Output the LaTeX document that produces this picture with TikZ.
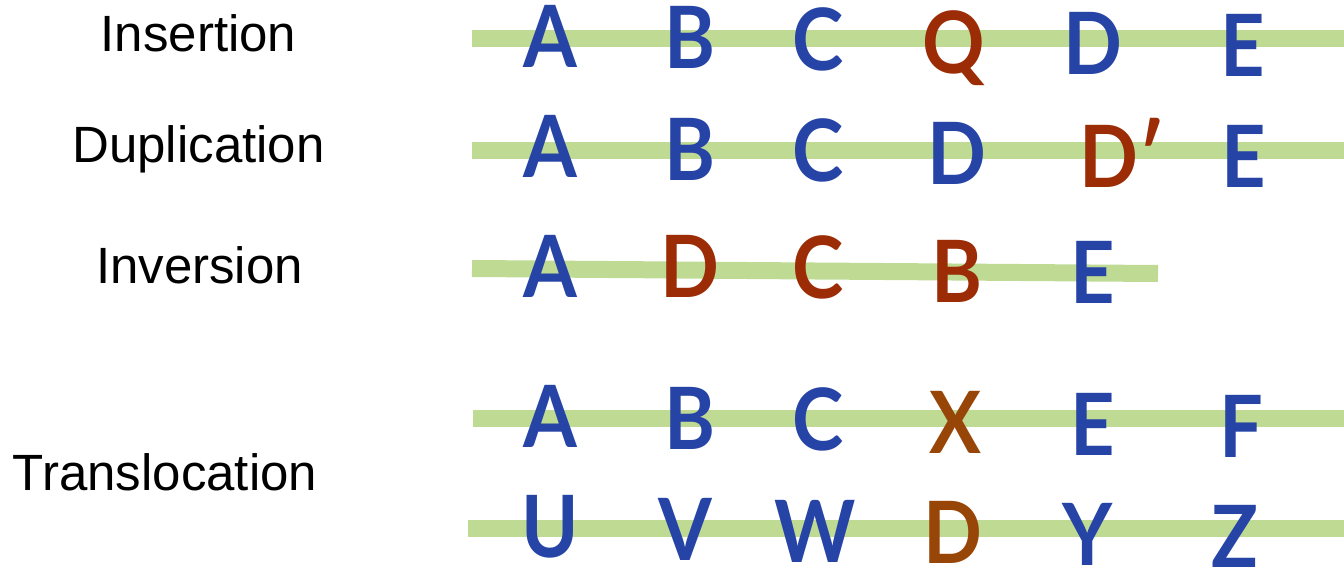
\documentclass[tikz,border=0pt]{standalone}
\usepackage{fontspec}
\setmainfont{Liberation Sans}
\newfontfamily\letf{Lato}
\definecolor{gblue}{HTML}{2643A6}
\definecolor{gred}{HTML}{9B2C06}
\definecolor{gorange}{HTML}{984608}
\definecolor{ggreen}{HTML}{BFDB93}
\tikzset{
  lab/.style={font=\fontsize{51}{60}\selectfont, inner sep=0, anchor=base, text=black},
  gene/.style={font=\letf\bfseries\fontsize{86}{90}\selectfont, inner sep=0, anchor=base,
               text depth=0pt, xscale=0.9, text=gblue},
  mut/.style={text=gred},
  tmut/.style={text=gorange},
  chrom/.style={draw=ggreen, line width=17pt}
}
\begin{document}
\begin{tikzpicture}[x=1pt,y=-1pt]
\useasboundingbox (0,0) rectangle (1344,567);
% labels
\node[lab] (l1) at (198.5,52) {Insertion};
\node[lab] (l2) at (198.5,163) {Duplication};
\node[lab] (l3) at (199.5,283) {Inversion};
\node[lab] (l4) at (165,490) {Translocation};
% chromosomes
\coordinate (c1a) at (472,38.5); \coordinate (c1b) at (1344,38.5);
\coordinate (c2a) at (472,151);  \coordinate (c2b) at (1344,151);
\coordinate (c3a) at (472,268.5);\coordinate (c3b) at (1158,273.5);
\coordinate (c4a) at (473,418);  \coordinate (c4b) at (1344,418);
\coordinate (c5a) at (468,528.5);\coordinate (c5b) at (1344,528.5);
\draw[chrom] (c1a) -- (c1b);
\draw[chrom] (c2a) -- (c2b);
\draw[chrom] (c3a) -- (c3b);
\draw[chrom] (c4a) -- (c4b);
\draw[chrom] (c5a) -- (c5b);
% row 1: insertion
\node[gene] (r1a) at (550,68) {A};
\node[gene] (r1b) at (690,69) {B};
\node[gene] (r1c) at (818,71) {C};
\node[gene,mut] (r1q) at (954,74) {Q};
\node[gene] (r1d) at (1093,75) {D};
\node[gene] (r1e) at (1243,77) {E};
% row 2: duplication
\node[gene] (r2a) at (550,178) {A};
\node[gene] (r2b) at (690,180) {B};
\node[gene] (r2c) at (818,181) {C};
\node[gene] (r2d) at (957,185) {D};
\node[gene,mut] (r2dp) at (1122,187) {D′};
\node[gene] (r2e) at (1244,187) {E};
% row 3: inversion
\node[gene] (r3a) at (550,297) {A};
\node[gene,mut] (r3d) at (690,297) {D};
\node[gene,mut] (r3c) at (818,298) {C};
\node[gene,mut] (r3b) at (957,302) {B};
\node[gene] (r3e) at (1093,303) {E};
% row 4: translocation, chromosome 1
\node[gene] (r4a) at (550,447) {A};
\node[gene] (r4b) at (690,449) {B};
\node[gene] (r4c) at (818,450) {C};
\node[gene,tmut] (r4x) at (955,453) {X};
\node[gene] (r4e) at (1093,455) {E};
\node[gene] (r4f) at (1241,457) {F};
% row 5: translocation, chromosome 2
\node[gene] (r5u) at (550,557) {U};
\node[gene] (r5v) at (685,560) {V};
\node[gene] (r5w) at (815,562) {W};
\node[gene,tmut] (r5d) at (953,563) {D};
\node[gene] (r5y) at (1088,565) {Y};
\node[gene] (r5z) at (1235,567) {Z};
\end{tikzpicture}
\end{document}
